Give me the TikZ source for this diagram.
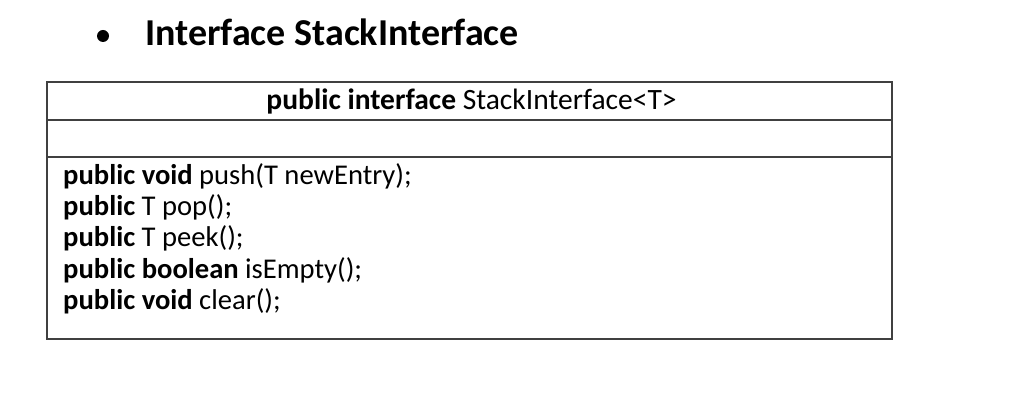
\documentclass[tikz,border=0pt]{standalone}
\usepackage{fontspec}
\setmainfont{Carlito}
\begin{document}
\begin{tikzpicture}[x=1pt,y=-1pt,
  rule/.style={draw=black!75,line width=1.4pt},
  body/.style={inner sep=0pt,anchor=base west,font=\fontsize{28.6}{30}\selectfont},
  title/.style={inner sep=0pt,anchor=base west,font=\fontsize{38}{40}\selectfont\bfseries}]
\useasboundingbox[fill=white] (0,0) rectangle (1024,403);
\fill (103,36) circle (6);
\node[title] (t) at (145,46) {Interface StackInterface};
\draw[rule] (47,82) rectangle (892,339);
\draw[rule] (47,120) -- (892,120);
\draw[rule] (47,157) -- (892,157);
\node[body,anchor=base,font=\fontsize{29.5}{30}\selectfont] (h) at (471.5,110) {\textbf{public interface} StackInterface<T>};
\node[body] (l1) at (63,185) {\textbf{public void} push(T newEntry);};
\node[body] (l2) at (63,216) {\textbf{public} T pop();};
\node[body] (l3) at (63,247) {\textbf{public} T peek();};
\node[body] (l4) at (63,278) {\textbf{public boolean} isEmpty();};
\node[body] (l5) at (63,309) {\textbf{public void} clear();};
\end{tikzpicture}
\end{document}
